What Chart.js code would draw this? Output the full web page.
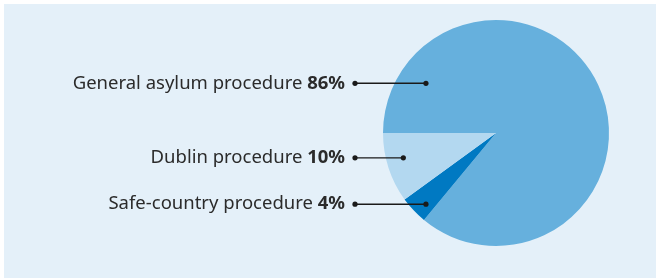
<!DOCTYPE html>
<html>
<head>
<meta charset="utf-8">
<script src="https://cdn.jsdelivr.net/npm/chart.js@4"></script>
<style>
  body { margin: 0; background: #ffffff; }
  #box { position: absolute; left: 4px; top: 4px; width: 652px; height: 274px; background: #e4f0f9; }
  #wrap { position: absolute; left: 0; top: 0; width: 657px; height: 279px; }
</style>
</head>
<body>
<div id="box"></div>
<div id="wrap"><canvas id="chartVerfahren"></canvas></div>
<script>
// Dados do gráfico (ordem no sentido horário a partir das 9 horas)
const categorias = ['General asylum procedure', 'Safe-country procedure', 'Dublin procedure'];
const valores = [86, 4, 10];
const cores = ['#66b0dd', '#0079c2', '#b3d8f0'];

// Posição das legendas (em frações do raio, relativo ao centro)
const rotulos = [
    { idx: 0, dy: -0.44, ax: -0.62 },
    { idx: 2, dy: 0.22, ax: -0.82 },
    { idx: 1, dy: 0.63, ax: -0.62 }
];

const FONTE = '"Noto Sans", sans-serif';

const leaderPlugin = {
    id: 'leaders',
    afterDraw(chart) {
        const ctx = chart.ctx;
        const arc = chart.getDatasetMeta(0).data[0];
        const cx = arc.x, cy = arc.y, r = arc.outerRadius;
        const dotX = cx - 141;
        const textX = dotX - 10;

        ctx.save();
        rotulos.forEach(rot => {
            const y = cy + rot.dy * r;
            const ax = cx + rot.ax * r;

            // linha e pontos
            ctx.strokeStyle = '#1a1a1a';
            ctx.fillStyle = '#1a1a1a';
            ctx.lineWidth = 1.4;
            ctx.beginPath();
            ctx.moveTo(dotX, y);
            ctx.lineTo(ax, y);
            ctx.stroke();
            [dotX, ax].forEach(x => {
                ctx.beginPath();
                ctx.arc(x, y, 2.6, 0, Math.PI * 2);
                ctx.fill();
            });

            // texto
            ctx.fillStyle = '#2b2b2b';
            ctx.textBaseline = 'middle';
            ctx.textAlign = 'right';
            const pct = valores[rot.idx] + '%';
            ctx.font = 'bold 18.5px ' + FONTE;
            ctx.fillText(pct, textX, y);
            const w = ctx.measureText(pct).width;
            ctx.font = '18.5px ' + FONTE;
            ctx.fillText(categorias[rot.idx] + ' ', textX - w, y);
        });
        ctx.restore();
    }
};

const ctx = document.getElementById('chartVerfahren').getContext('2d');
new Chart(ctx, {
    type: 'pie',
    data: {
        labels: categorias,
        datasets: [{
            data: valores,
            backgroundColor: cores,
            borderWidth: 0
        }]
    },
    options: {
        responsive: true,
        maintainAspectRatio: false,
        animation: false,
        rotation: -90,
        layout: { padding: { left: 383, right: 48, top: 20, bottom: 33 } },
        plugins: {
            legend: { display: false },
            tooltip: { enabled: false }
        }
    },
    plugins: [leaderPlugin]
});
</script>
</body>
</html>
